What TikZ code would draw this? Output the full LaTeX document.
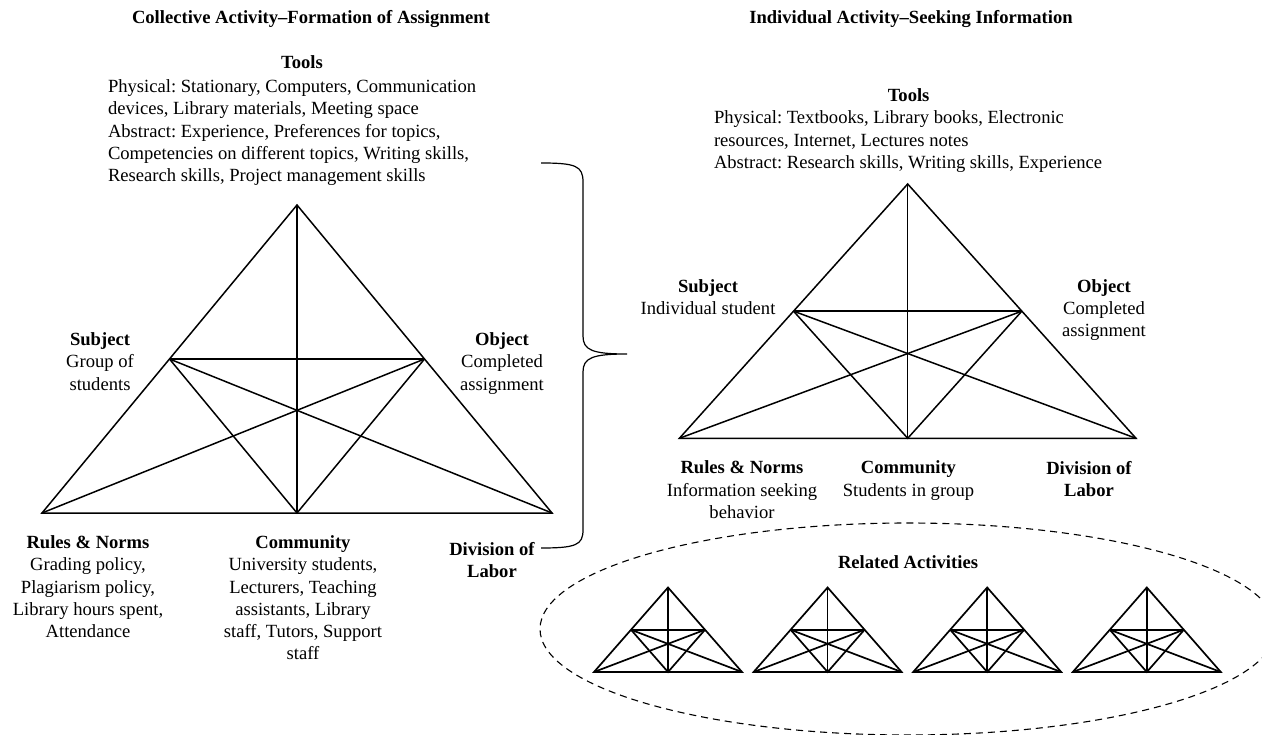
\documentclass[tikz,border=0pt]{standalone}
\usepackage{fontspec}
\setmainfont{Liberation Serif}
\usetikzlibrary{calc,shapes.geometric}
\frenchspacing
\tikzset{
  txt/.style={font=\fontsize{18.6}{22.2}\selectfont, inner sep=0pt, outer sep=0pt, align=center, text=black},
  hd/.style={txt, font=\fontsize{18.6}{22.2}\selectfont\bfseries},
  tri/.style={line width=1.5pt, line join=miter},
  smalltri/.style={line width=1.7pt, line join=miter},
  bracestyle/.style={line width=1.2pt},
  ellstyle/.style={line width=1.1pt, dash pattern=on 7pt off 5pt},
}
\newcommand\ActTri[6]{%
  \coordinate (#1t) at (#2,#3);
  \coordinate (#1l) at ({#2-#4},{#3+#5});
  \coordinate (#1r) at ({#2+#4},{#3+#5});
  \coordinate (#1b) at (#2,{#3+#5});
  \coordinate (#1ml) at ($(#1l)!0.5!(#1t)$);
  \coordinate (#1mr) at ($(#1r)!0.5!(#1t)$);
  \draw[#6] (#1l) -- (#1r) -- (#1t) -- cycle;
  \draw[#6] (#1t) -- (#1b);
  \draw[#6] (#1ml) -- (#1mr);
  \draw[#6] (#1ml) -- (#1b) -- (#1mr);
  \draw[#6] (#1ml) -- (#1r);
  \draw[#6] (#1mr) -- (#1l);
}
\begin{document}
\begin{tikzpicture}[x=1pt,y=-1pt]
\useasboundingbox[fill=white] (0,0) rectangle (1262,735);

% titles
\node[hd, anchor=base] (titleL) at (311,23.5) {Collective Activity--Formation of Assignment};
\node[hd, anchor=base] (titleR) at (911,23.5) {Individual Activity--Seeking Information};

% left tools
\node[hd, anchor=base] (toolsLh) at (302,68.5) {Tools};
\node[txt, anchor=north west, align=left] (toolsLb) at (108,79.7) {Physical: Stationary, Computers, Communication\\devices, Library materials, Meeting space\\Abstract: Experience, Preferences for topics,\\Competencies on different topics, Writing skills,\\Research skills, Project management skills};

% right tools
\node[hd, anchor=base] (toolsRh) at (908.6,102) {Tools};
\node[txt, anchor=north west, align=left] (toolsRb) at (714,111) {Physical: Textbooks, Library books, Electronic\\resources, Internet, Lectures notes\\Abstract: Research skills, Writing skills, Experience};

% big triangles
\ActTri{L}{297}{205}{255}{308}{tri}
\ActTri{R}{907.7}{184}{228.3}{254.3}{tri}

% left labels
\node[txt, anchor=north] (subjL) at (100,332.7) {\textbf{Subject}\\Group of\\students};
\node[txt, anchor=north] (objL) at (502,332.7) {\textbf{Object}\\Completed\\assignment};
\node[txt, anchor=north] (rulesL) at (88,535.7) {\textbf{Rules \& Norms}\\Grading policy,\\Plagiarism policy,\\Library hours spent,\\Attendance};
\node[txt, anchor=north] (commL) at (303,535.7) {\textbf{Community}\\University students,\\Lecturers, Teaching\\assistants, Library\\staff, Tutors, Support\\staff};
\node[txt, anchor=north] (divL) at (492,542.7) {\textbf{Division of}\\\textbf{Labor}};

% right labels
\node[txt, anchor=north] (subjR) at (708,279.4) {\textbf{Subject}\\Individual student};
\node[txt, anchor=north] (objR) at (1104,279.4) {\textbf{Object}\\Completed\\assignment};
\node[txt, anchor=north] (rulesR) at (742,461) {\textbf{Rules \& Norms}\\Information seeking\\behavior};
\node[txt, anchor=north] (commR) at (908.5,461) {\textbf{Community}\\Students in group};
\node[txt, anchor=north] (divR) at (1089,461) {\textbf{Division of}\\\textbf{Labor}};

% brace
\coordinate (braceTop) at (541,163);
\coordinate (braceTip) at (627,354);
\coordinate (braceBot) at (541,548);
\draw[bracestyle] (braceTop) .. controls (576,163) and (583,166) .. (583,182)
  -- (583,336) .. controls (583,350) and (592,354) .. (braceTip)
  .. controls (592,354) and (583,358) .. (583,372)
  -- (583,530) .. controls (583,545) and (576,548) .. (braceBot);

% related activities
\node[ellstyle, draw, ellipse, minimum width=736pt, minimum height=212pt, inner sep=0pt] (rel) at (908,629) {};
\node[hd, anchor=base] (relT) at (908,568.5) {Related Activities};
\ActTri{SA}{668}{587.5}{74}{84.5}{smalltri}
\ActTri{SB}{827.6}{587.5}{74}{84.5}{smalltri}
\ActTri{SC}{987.2}{587.5}{74}{84.5}{smalltri}
\ActTri{SD}{1146.8}{587.5}{74}{84.5}{smalltri}
\end{tikzpicture}
\end{document}
